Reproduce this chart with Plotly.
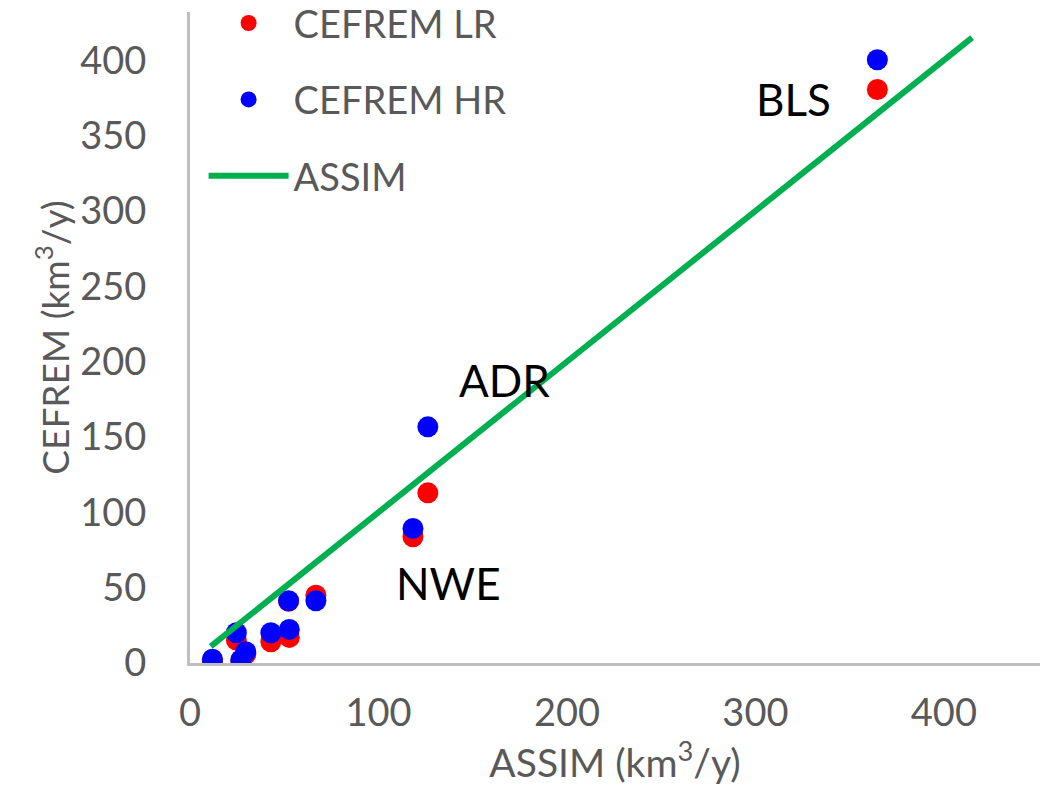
import plotly.graph_objects as go

# ---- data ----
assim = [11.9, 24.6, 27.0, 29.6, 42.9, 52.3, 52.7, 66.8, 118.3, 126.2, 364.7]
cefrem_lr = [1.3, 15.2, 2.0, 6.0, 14.1, 41.0, 17.0, 45.0, 83.8, 112.9, 380.6]
cefrem_hr = [2.5, 20.1, 2.0, 7.5, 20.1, 41.3, 22.3, 41.3, 89.3, 156.7, 400.3]
assim_line_x = [11, 27, 53, 119, 126, 363, 415]
assim_line_y = [11, 27, 53, 119, 126, 363, 415]
labels = ["BLS", "ADR", "NWE"]
label_x = [320, 167, 137]
label_y = [374, 188, 53]
x_ticks = [0, 100, 200, 300, 400]
y_ticks = [0, 50, 100, 150, 200, 250, 300, 350, 400]

FONT = "Lato"
GRAY = "#595959"

fig = go.Figure()
fig.add_trace(go.Scatter(x=assim, y=cefrem_lr, mode="markers", name="CEFREM LR",
                         legendgroup="a",
                         marker=dict(color="#FF0000", size=21)))
fig.add_trace(go.Scatter(x=assim, y=cefrem_hr, mode="markers", name="CEFREM HR",
                         legendgroup="b",
                         marker=dict(color="#0000FF", size=21)))
fig.add_trace(go.Scatter(x=assim_line_x, y=assim_line_y, mode="lines", name="ASSIM",
                         legendgroup="c",
                         line=dict(color="#00B050", width=6)))

for t, xx, yy in zip(labels, label_x, label_y):
    fig.add_annotation(x=xx, y=yy, text=t, showarrow=False,
                       font=dict(family=FONT, size=44, color="#000000"))

fig.update_layout(
    width=1052, height=797,
    margin=dict(l=190, r=12, t=12, b=134, autoexpand=False),
    paper_bgcolor="white", plot_bgcolor="white",
    font=dict(family=FONT, color=GRAY),
    showlegend=True,
    legend=dict(x=0.016, y=1.031, xanchor="left", yanchor="top",
                font=dict(size=38, color=GRAY), bgcolor="rgba(0,0,0,0)",
                tracegroupgap=24, itemwidth=80, traceorder="grouped"),
)
fig.update_xaxes(range=[0, 451], tickvals=x_ticks, showgrid=False, zeroline=False,
                 showline=True, linecolor="#BFBFBF", linewidth=3,
                 tickfont=dict(size=38, color=GRAY), ticklabelstandoff=14,
                 title=dict(text="ASSIM (km<sup>3</sup>/y)", font=dict(size=39, color=GRAY),
                            standoff=16))
fig.update_yaxes(range=[0, 432], tickvals=y_ticks, showgrid=False, zeroline=False,
                 showline=True, linecolor="#BFBFBF", linewidth=3,
                 tickfont=dict(size=38, color=GRAY), ticklabelstandoff=33,
                 title=dict(text="CEFREM (km<sup>3</sup>/y)", font=dict(size=37, color=GRAY),
                            standoff=0))

fig.write_html("out.html")
